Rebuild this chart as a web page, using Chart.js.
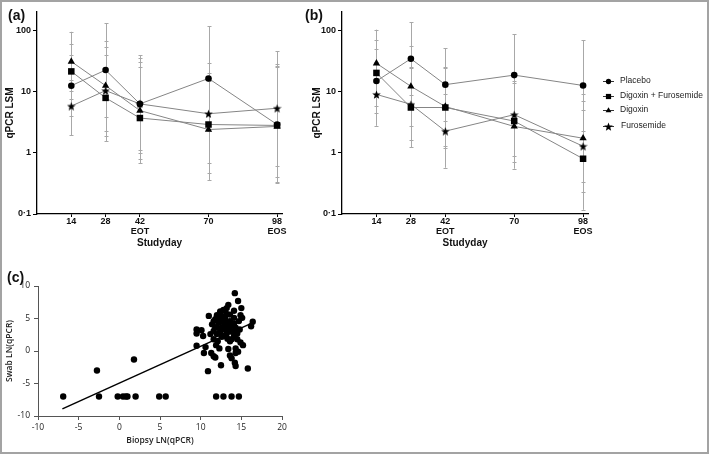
<!DOCTYPE html>
<html>
<head>
<meta charset="utf-8">
<script src="https://cdn.jsdelivr.net/npm/chart.js"></script>
<style>
  html, body { margin: 0; padding: 0; background: #fff; }
  #fig { position: relative; width: 709px; height: 454px; overflow: hidden; font-family: "Liberation Sans", Arial, sans-serif; }
  #frame { position: absolute; left: 0; top: 0; width: 705px; height: 450px; border: 2px solid #a3a3a3; }
  canvas { position: absolute; }
  .lbl { position: absolute; font-weight: bold; font-size: 14px; color: #111; }
</style>
</head>
<body>
<div id="fig">
  <div id="frame"></div>
  <canvas id="chartA" width="292" height="252" style="left:0;top:0"></canvas>
  <canvas id="chartB" width="409" height="252" style="left:300px;top:0"></canvas>
  <canvas id="chartC" width="300" height="185" style="left:0;top:265px"></canvas>
  <div class="lbl" style="left:8px;top:7px">(a)</div>
  <div class="lbl" style="left:305px;top:7px">(b)</div>
  <div class="lbl" style="left:7px;top:269px">(c)</div>
</div>
<script>
// ---- data ----
const days = [14, 28, 42, 70, 98];
const seriesNames = ["Placebo", "Digoxin + Furosemide", "Digoxin", "Furosemide"];
const yTickVals = [0.1, 1, 10, 100];
const yTickLabels = ["0·1", "1", "10", "100"];

// panel (a)
const aPlacebo = [12.5, 22.5, 6.3, 16.4, 2.9];
const aDigFur = [21.4, 7.9, 3.7, 2.9, 2.8];
const aDigoxin = [31, 12.5, 4.9, 2.4, 2.7];
const aFurosemide = [5.8, 10.4, 6.3, 4.35, 5.35];
const aPlaceboLo = [4.0, 3.9, 1.0, 2.3, 0.32];
const aPlaceboHi = [39, 131, 39.5, 118, 28];
const aDigFurLo = [7.5, 1.55, 0.67, 0.46, 0.33];
const aDigFurHi = [61, 40, 25, 20, 26];
const aDigoxinLo = [10.1, 2.3, 0.8, 0.36, 0.4];
const aDigoxinHi = [95, 67, 30, 15, 25];
const aFuroLo = [1.93, 1.9, 1.1, 0.67, 0.62];
const aFuroHi = [15.6, 54, 36, 29, 46];

// panel (b)
const bPlacebo = [14.9, 34.4, 13, 18.6, 12.6];
const bDigFur = [20.2, 5.5, 5.5, 3.3, 0.8];
const bDigoxin = [29, 12.2, 5.7, 2.7, 1.73];
const bFurosemide = [9.0, 6.2, 2.26, 4.2, 1.28];
const bPlaceboLo = [4.4, 8.7, 3.3, 4, 2.3];
const bPlaceboHi = [50, 136, 51, 86, 69];
const bDigFurLo = [5.8, 1.23, 1.2, 0.7, 0.117];
const bDigFurHi = [70, 25, 25, 15, 5];
const bDigoxinLo = [8.2, 2.7, 1.3, 0.55, 0.33];
const bDigoxinHi = [103, 55, 24, 14, 9];
const bFuroLo = [2.76, 1.6, 0.57, 0.9, 0.23];
const bFuroHi = [30, 24, 9, 20, 7];

// panel (c)
const biopsyX = [14.2, 14.6, 13.4, 15.0, 12.8, 12.4, 12.0, 11.0, 13.2, 14.9, 14.1, 11.8, 12.4, 13.6, 14.7, 16.4, 16.2, 11.4, 12.9, 14.1,
  12.0, 12.6, 13.4, 14.3, 9.5, 10.1, 11.6, 12.4, 13.2, 13.7, 9.5, 10.3, 12.6, 14.1, 11.6, 12.1, 13.6, 14.5, 14.9, 15.2,
  9.5, 10.6, 11.9, 12.3, 13.4, 14.3, 14.6, 10.4, 11.3, 11.6, 11.8, 13.6, 13.8, 14.3, 14.2, 14.3, 12.5, 10.9, 15.8,
  12.2, 13.0, 12.7, 13.3, 13.8, 12.2, 11.8, 13.0, 13.6, 12.6, 13.6, 14.1, 13.2, 12.4, 14.1, 12.0, 12.9, 13.3, 13.8, 14.5,
  14.8, 11.6, 11.2, 15.1,
  -6.9, -2.5, -0.2, 0.45, 0.8, 1.0, 2.0, 4.9, 5.7, 11.9, 12.8, 13.8, 14.7, -2.75, 1.8];
const swabY = [8.9, 7.7, 7.1, 6.6, 6.3, 6.1, 5.5, 5.4, 5.7, 5.5, 5.1, 4.9, 4.9, 4.6, 4.6, 4.5, 3.8, 4.1, 4.1, 4.2,
  3.7, 3.6, 3.5, 3.6, 3.3, 3.2, 3.1, 2.8, 2.7, 3.0, 2.7, 2.3, 2.2, 2.3, 1.8, 1.5, 1.5, 1.8, 1.3, 0.9,
  0.8, 0.6, 0.9, 0.4, 0.3, 0.4, -0.1, -0.3, -0.3, -0.8, -1.0, -0.7, -1.1, -0.3, -1.8, -2.3, -2.2, -3.1, -2.7,
  5.1, 5.0, 4.6, 4.4, 4.0, 4.4, 3.6, 3.3, 3.7, 5.4, 5.6, 6.2, 6.6, 3.1, 3.1, 2.6, 2.3, 1.9, 1.8, 2.7,
  3.3, 4.6, 2.6, 5.1,
  -7, -7, -7, -7, -7, -7, -7, -7, -7, -7, -7, -7, -7, -3.0, -1.3];
const fitX = [-7, 16.5];
const fitY = [-8.9, 4.4];

// ---- helpers ----
function makeStar(size) {
  const c = document.createElement("canvas");
  c.width = c.height = size;
  const g = c.getContext("2d");
  g.fillStyle = "#000";
  g.beginPath();
  for (let i = 0; i < 10; i++) {
    const r = i % 2 ? size * 0.21 : size / 2;
    const a = -Math.PI / 2 + i * Math.PI / 5;
    const px = size / 2 + r * Math.cos(a), py = size / 2 + 0.5 + r * Math.sin(a);
    i ? g.lineTo(px, py) : g.moveTo(px, py);
  }
  g.closePath();
  g.fill();
  return c;
}
const star = makeStar(9);
const markers = ["circle", "rect", "triangle", star];
const markerRadius = [3.3, 4.6, 4.2, 5];

const errorBars = {
  id: "errorBars",
  beforeDatasetsDraw(chart) {
    const ctx = chart.ctx, xs = chart.scales.x, ys = chart.scales.y;
    ctx.save();
    ctx.strokeStyle = "#a8a8a8";
    ctx.lineWidth = 1;
    chart.data.datasets.forEach(ds => {
      if (!ds.lo) return;
      ds.data.forEach((p, j) => {
        const x = Math.round(xs.getPixelForValue(p.x)) + 0.5;
        const y1 = ys.getPixelForValue(ds.lo[j]), y2 = ys.getPixelForValue(ds.hi[j]);
        ctx.beginPath();
        ctx.moveTo(x, y1); ctx.lineTo(x, y2);
        ctx.moveTo(x - 2, Math.round(y1) + 0.5); ctx.lineTo(x + 2, Math.round(y1) + 0.5);
        ctx.moveTo(x - 2, Math.round(y2) + 0.5); ctx.lineTo(x + 2, Math.round(y2) + 0.5);
        ctx.stroke();
      });
    });
    ctx.restore();
  }
};

const sideLegend = {
  id: "sideLegend",
  afterDraw(chart) {
    const ctx = chart.ctx;
    const rows = [81, 96, 110, 126];
    ctx.save();
    ctx.font = "8.5px 'Liberation Sans', Arial, sans-serif";
    ctx.textBaseline = "middle";
    seriesNames.forEach((name, i) => {
      const y = rows[i];
      ctx.strokeStyle = "#333";
      ctx.lineWidth = 1;
      ctx.beginPath(); ctx.moveTo(303, y + 0.5); ctx.lineTo(314, y + 0.5); ctx.stroke();
      ctx.fillStyle = "#000";
      if (i === 3) ctx.drawImage(star, 304, y - 4, 9, 9);
      else Chart.helpers.drawPoint(ctx, { pointStyle: markers[i], radius: markerRadius[i] * 0.8, borderWidth: 0 }, 308.5, y + 0.5);
      ctx.fillStyle = "#222";
      ctx.fillText(name, i === 3 ? 321 : 320, y);
    });
    ctx.restore();
  }
};

function courseChart(id, values, lows, highs, pad, yWidth, extraPlugins) {
  const datasets = values.map((vals, i) => ({
    label: seriesNames[i],
    data: days.map((d, j) => ({ x: d, y: vals[j] })),
    lo: lows[i],
    hi: highs[i],
    borderColor: "#858585",
    borderWidth: 1,
    pointStyle: markers[i],
    pointRadius: markerRadius[i],
    pointBackgroundColor: "#000",
    pointBorderColor: "#000",
    pointBorderWidth: 0,
    tension: 0
  }));
  const tickFont = { family: "'Liberation Sans', Arial, sans-serif", size: 9, weight: "bold", lineHeight: 1.05 };
  const titleFont = { family: "'Liberation Sans', Arial, sans-serif", size: 10, weight: "bold" };
  new Chart(document.getElementById(id), {
    type: "line",
    data: { datasets },
    options: {
      responsive: false,
      animation: false,
      layout: { padding: pad },
      plugins: { legend: { display: false }, tooltip: { enabled: false } },
      scales: {
        x: {
          type: "linear", min: 0, max: 100,
          afterBuildTicks: s => { s.ticks = days.map(v => ({ value: v })); },
          afterFit: s => { s.height = 38; },
          grid: { drawOnChartArea: false, drawTicks: true, tickLength: 3, tickColor: "#000" },
          border: { color: "#000", width: 1.3 },
          ticks: {
            autoSkip: false, maxRotation: 0, padding: 0, color: "#111", font: tickFont,
            callback: v => v === 42 ? ["42", "EOT"] : v === 98 ? ["98", "EOS"] : String(v)
          },
          title: { display: true, text: "Studyday", color: "#111", font: titleFont, padding: { top: 0, bottom: 3 } }
        },
        y: {
          type: "logarithmic", min: 0.1, max: 200,
          afterBuildTicks: s => { s.ticks = yTickVals.map(v => ({ value: v })); },
          afterFit: s => { s.width = yWidth; },
          grid: { drawOnChartArea: false, drawTicks: true, tickLength: 4, tickColor: "#000" },
          border: { color: "#000", width: 1.3 },
          ticks: {
            autoSkip: false, padding: 2, color: "#111", font: tickFont,
            callback: v => yTickLabels[yTickVals.indexOf(v)]
          },
          title: { display: true, text: "qPCR LSM", color: "#111", font: titleFont, padding: { top: 4, bottom: 0 } }
        }
      }
    },
    plugins: [errorBars].concat(extraPlugins)
  });
}

courseChart("chartA",
  [aPlacebo, aDigFur, aDigoxin, aFurosemide],
  [aPlaceboLo, aDigFurLo, aDigoxinLo, aFuroLo],
  [aPlaceboHi, aDigFurHi, aDigoxinHi, aFuroHi],
  { top: 12, right: 10, left: 0, bottom: 0 }, 37, []);

courseChart("chartB",
  [bPlacebo, bDigFur, bDigoxin, bFurosemide],
  [bPlaceboLo, bDigFurLo, bDigoxinLo, bFuroLo],
  [bPlaceboHi, bDigFurHi, bDigoxinHi, bFuroHi],
  { top: 12, right: 121, left: 7, bottom: 0 }, 35, [sideLegend]);

// panel (c) scatter with fitted line
const cTick = { family: "'Open Sans', 'Liberation Sans', sans-serif", size: 8.5 };
const cTitle = { family: "'Open Sans', 'Liberation Sans', sans-serif", size: 8.5, weight: "600" };
new Chart(document.getElementById("chartC"), {
  type: "scatter",
  data: {
    datasets: [
      {
        data: biopsyX.map((x, i) => ({ x, y: swabY[i] })),
        pointRadius: 3.2,
        pointBackgroundColor: "#000",
        pointBorderWidth: 0
      },
      {
        type: "line",
        data: fitX.map((x, i) => ({ x, y: fitY[i] })),
        borderColor: "#000",
        borderWidth: 1.5,
        pointRadius: 0
      }
    ]
  },
  options: {
    responsive: false,
    animation: false,
    layout: { padding: { top: 21, right: 18, left: 0, bottom: 0 } },
    plugins: { legend: { display: false }, tooltip: { enabled: false } },
    scales: {
      x: {
        type: "linear", min: -10, max: 20,
        afterFit: s => { s.height = 34; },
        grid: { drawOnChartArea: false, drawTicks: true, tickLength: 4, tickColor: "#555" },
        border: { color: "#555", width: 1 },
        ticks: { stepSize: 5, padding: 2, color: "#222", font: cTick },
        title: { display: true, text: "Biopsy LN(qPCR)", color: "#222", font: cTitle, padding: { top: 2, bottom: 4 } }
      },
      y: {
        min: -10, max: 10,
        afterFit: s => { s.width = 38; },
        grid: { drawOnChartArea: false, drawTicks: true, tickLength: 4, tickColor: "#555" },
        border: { color: "#555", width: 1 },
        ticks: { stepSize: 5, padding: 4, color: "#222", font: cTick },
        title: { display: true, text: "Swab LN(qPCR)", color: "#222", font: cTitle, padding: { top: 4, bottom: 0 } }
      }
    }
  }
});
</script>
</body>
</html>
